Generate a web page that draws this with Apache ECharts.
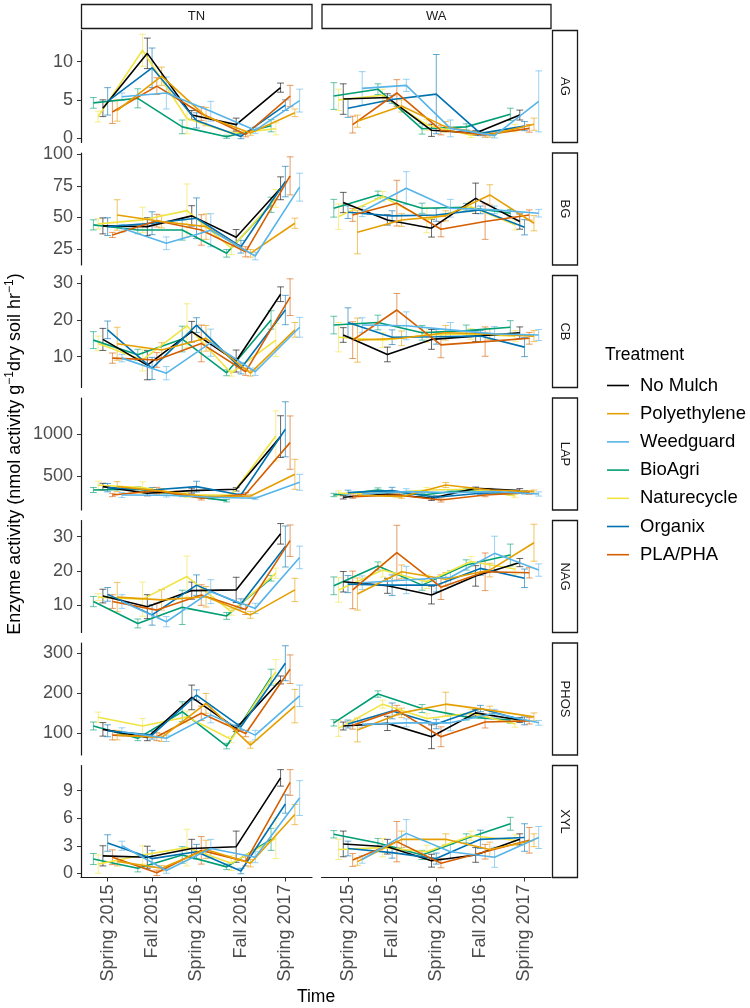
<!DOCTYPE html>
<html><head><meta charset="utf-8">
<script src="https://cdn.jsdelivr.net/npm/echarts@6/dist/echarts.min.js"></script>
<style>html,body{margin:0;padding:0;background:#fff}#c{width:750px;height:1008px}</style>
</head><body><div id="c"></div>
<script>
// ---------- data ----------
const times = ['Spring 2015','Fall 2015','Spring 2016','Fall 2016','Spring 2017'];
const treatments = ['No Mulch','Polyethylene','Weedguard','BioAgri','Naturecycle','Organix','PLA/PHA'];
const colors = ['#000000','#E69F00','#56B4E9','#009E73','#F0E442','#0072B2','#D55E00'];
const sites = ['TN','WA'];
const enzymes = ['AG','BG','CB','LAP','NAG','PHOS','XYL'];

const ticksAG = [0,5,10];        const rangeAG = [-0.6, 14.1];
const ticksBG = [25,50,75,100];  const rangeBG = [12.6, 100.8];
const ticksCB = [10,20,30];      const rangeCB = [1.6, 32.1];
const ticksLAP = [500,1000];     const rangeLAP = [92, 1435];
const ticksNAG = [10,20,30];     const rangeNAG = [1.95, 34.7];
const ticksPHOS = [100,200,300]; const rangePHOS = [44, 326];
const ticksXYL = [0,3,6,9];      const rangeXYL = [-0.46, 11.75];

// rows: No Mulch, Polyethylene, Weedguard, BioAgri, Naturecycle, Organix, PLA/PHA
const AG_TN = [[3.9,11.1,3.0,1.75,6.6],[3.6,8.1,2.8,0.65,3.3],[5.4,5.9,3.5,1.0,4.9],[4.6,5.2,1.45,0.15,1.6],[2.8,11.5,2.55,0.6,1.2],[4.8,9.2,2.3,0.2,4.3],[3.4,6.8,3.2,0.45,5.5]];
const AG_TN_se = [[1.1,2.0,0.6,0.85,0.6],[1.4,1.2,1.2,0.3,0.5],[0.5,2.1,1.3,0.4,1.5],[0.7,1.25,0.9,0.2,0.8],[0.7,2.1,2.0,0.3,0.8],[1.8,2.6,1.0,0.3,0.7],[1.5,1.1,0.9,0.3,1.4]];
const AG_WA = [[5.1,5.3,1.0,0.65,3.0],[2.2,4.2,1.45,0.4,1.8],[6.5,6.9,1.25,0.3,4.8],[5.5,6.4,1.2,1.45,3.1],[5.0,5.6,1.7,0.35,1.3],[3.9,5.05,5.75,0.6,1.55],[1.75,5.9,1.0,0.4,1.25]];
const AG_WA_se = [[2.0,0.5,0.8,0.3,0.65],[0.8,0.8,0.7,0.3,0.8],[2.2,0.8,1.1,0.3,4.0],[1.75,0.7,0.7,0.4,0.8],[1.4,0.8,0.7,0.3,0.5],[1.2,0.5,5.2,0.3,0.6],[1.1,1.75,0.6,0.3,0.5]];

const BG_TN = [[43.4,42.8,51.3,34.5,73],[52,46.8,42.8,21.8,45.5],[41.6,29.7,40,19.7,73.9],[44.2,40.2,40.2,21.8,60],[45,48.1,55.4,25.8,65],[42.8,45.5,49.4,27,78.3],[36.3,47.5,40.2,23,82.8]];
const BG_TN_se = [[6.3,7,8,6,9],[12,5,10,3,4],[3,5,13,3,11],[4,3,8,3,6],[4,10,21,5,7],[7,9,16,5,12],[2,5,12,4,15]];
const BG_WA = [[61.8,48.1,41.6,65.1,46.8],[38.4,48,51.3,67.8,45.5],[54.7,73.1,57.3,56,53.4],[57.3,67.8,57.3,58.1,53.4],[50.7,66.5,48,58.5,44.2],[54.2,51.3,52,56,42.3],[52,61.3,40.8,46.8,52]];
const BG_WA_se = [[8,4,7,12,6],[17,5,4,8,6],[4,13,7,3,3],[7,3,4,3,3],[10,4,10,4,4],[5,4,5,3,6],[5,18,6,14,4]];

const CB_TN = [[14.7,7.7,16.8,8.8,27],[13.5,11.8,15,5.5,17.3],[9.6,5.5,13.8,5.9,18],[14.5,10.5,14.8,5.6,20],[13.6,9.1,18.4,5.5,14.5],[17.3,6.8,18.6,6.8,22.7],[9.6,9.1,13.6,5.9,26.2]];
const CB_TN_se = [[3,4,2.8,3,2],[4.5,2,3.5,0.8,2],[1,1.8,3.7,1,2.7],[2.3,1.5,3.5,0.8,2.5],[2,3,6,0.8,4.5],[2.4,3,2,1.5,4],[1.4,2,5,1,5]];
const CB_WA = [[15.9,10.6,14.7,15.6,16.5],[14.5,15,16.5,16.2,15.6],[18.6,18.4,17.3,16.2,15.9],[18.6,19.3,16.5,17.1,18],[15.3,14.5,15.9,16.2,15.6],[19.3,15.3,15.4,15.6,12.6],[14.5,22.7,13.2,14.1,15]];
const CB_WA_se = [[2,2,2.7,1.5,1.6],[6,2,2,1.5,1.5],[2,3.8,2,2,1.5],[2.4,2,2,1.5,1.8],[4,2,2,1.5,1.5],[4,2,2,1.5,2.6],[5,4.5,3.5,4,1.6]];

const LAP_TN = [[372,292,324,340,972],[372,320,252,260,520],[272,268,244,232,424],[332,340,272,204,null],[388,360,272,272,980],[360,332,372,272,1060],[272,324,232,280,900]];
const LAP_TN_se = [[40,30,30,20,250],[60,30,20,15,180],[30,20,20,15,95],[30,30,20,15,null],[50,70,30,20,300],[50,30,65,20,330],[20,40,20,20,320]];
const LAP_WA = [[244,284,232,352,324],[272,252,392,332,312],[284,312,300,312,284],[272,332,272,332,292],[292,292,332,340,260],[300,324,244,292,304],[252,272,212,272,300]];
const LAP_WA_se = [[20,20,25,15,25],[20,20,30,20,20],[20,35,25,15,25],[20,25,20,20,20],[30,25,30,20,20],[30,40,20,15,20],[20,20,25,20,20]];

const NAG_TN = [[12.6,9.5,14.2,14.4,30.8],[12.3,11.5,12.4,7.1,14.4],[11,5.1,13.9,9,23.9],[11,4.6,9.3,6.8,17.8],[12.3,11.7,18.3,8,19.3],[13.1,7.1,15.8,10.3,27.1],[11,8.5,12.9,8.7,28.8]];
const NAG_TN_se = [[2,3.5,2.5,3.7,3],[4.3,3,3,1,3.4],[2,1.5,3.5,1.5,3.3],[1.5,1.3,5,1,0.8],[1,5,6,1,1.5],[2,3,3,1.5,6],[2,2,3,1.5,4.6]];
const NAG_WA = [[16.8,15.6,12.9,18.5,22.4],[13.2,19.7,17.5,20.2,28.2],[16.5,17.3,18.1,25.1,20.2],[15.6,21.4,15.8,21.7,24.6],[14.4,20.2,16.8,22.7,20.5],[16.1,15.8,15.8,20.7,17.8],[14.4,25.3,15.2,19.7,19.4]];
const NAG_WA_se = [[3,2.2,2.6,3,1.2],[4.7,2,2,2,5.4],[2,4,2,5,1.8],[2.6,1.2,1.5,1.5,3.2],[3.6,2,2,1.5,1.5],[2.5,3,2,2,2.7],[5.5,8,3.6,5.5,1.5]];

const PHOS_TN = [[108.5,88,189,111,233],[94,88,174,69,167],[102.5,86,145,94,193],[117,86,153,66.5,240],[139,117,140,83,254],[105,94,195,115,275],[94,90,149,98,260]];
const PHOS_TN_se = [[17,8,31,8,10],[12,10,25,8,42],[10,8,20,12,27],[10,6,25,7,20],[13,19,15,8,30],[15,10,13,8,44],[12,10,18,8,36]];
const PHOS_WA = [[117,123.6,90,150,132],[107,150,172,157,140],[121,125,125,149,125],[125,197.5,161,140,132],[111,172,136,149,122],[122,155,122,161,130],[119,157,90,127,130]];
const PHOS_WA_se = [[10,18,30,8,6],[30,12,30,10,10],[8,10,20,10,6],[8,8,10,8,8],[20,10,12,10,8],[10,20,12,8,10],[10,12,25,15,8]];

const XYL_TN = [[1.9,1.75,2.7,2.9,10.4],[1.3,0.55,2.6,1.1,6.4],[3.0,0.3,2.7,1.75,8.2],[1.56,0.55,2.0,0.7,3.7],[1.0,2.0,2.8,1.1,3.8],[3.3,1.6,2.35,0.25,7.55],[1.75,0.05,2.5,1.3,9.9]];
const XYL_TN_se = [[1.1,1.2,1,1.7,0.9],[0.5,0.3,1,0.4,1.1],[0.5,0.3,1,0.6,1.9],[0.6,0.4,0.9,0.3,1.2],[1,1,2,0.8,2.2],[0.9,0.9,0.8,0.3,1],[0.8,0.3,1.5,0.5,1.4]];
const XYL_WA = [[3.2,2.9,1.37,2.0,3.7],[1.27,3.7,3.7,2.6,3.6],[1.5,4.35,2.35,1.75,3.9],[4.25,3.3,2.0,3.8,5.4],[2.6,2.8,2.35,4.1,3.6],[2.7,2.25,1.6,3.7,3.9],[1.45,3.45,1.1,2.35,3.6]];
const XYL_WA_se = [[1.4,0.8,0.7,0.8,0.6],[0.4,0.9,0.6,0.8,0.7],[0.4,1.5,0.8,1.1,1.2],[0.4,0.5,0.5,0.5,0.7],[1.1,1,0.7,0.5,0.6],[0.8,0.6,0.6,1,1.5],[0.7,2.2,0.5,0.8,1.4]];

// ---------- lookups ----------
const ticksBy = {AG:ticksAG,BG:ticksBG,CB:ticksCB,LAP:ticksLAP,NAG:ticksNAG,PHOS:ticksPHOS,XYL:ticksXYL};
const rangeBy = {AG:rangeAG,BG:rangeBG,CB:rangeCB,LAP:rangeLAP,NAG:rangeNAG,PHOS:rangePHOS,XYL:rangeXYL};
const meanBy = {AG:[AG_TN,AG_WA],BG:[BG_TN,BG_WA],CB:[CB_TN,CB_WA],LAP:[LAP_TN,LAP_WA],NAG:[NAG_TN,NAG_WA],PHOS:[PHOS_TN,PHOS_WA],XYL:[XYL_TN,XYL_WA]};
const seBy = {AG:[AG_TN_se,AG_WA_se],BG:[BG_TN_se,BG_WA_se],CB:[CB_TN_se,CB_WA_se],LAP:[LAP_TN_se,LAP_WA_se],NAG:[NAG_TN_se,NAG_WA_se],PHOS:[PHOS_TN_se,PHOS_WA_se],XYL:[XYL_TN_se,XYL_WA_se]};

// ---------- layout ----------
const FONT = "'Liberation Sans', Arial, Helvetica, sans-serif";
const colLeft = [81, 321.5];
const colWidth = [231, 229.5];
const rowTop0 = 30.5, rowPitch = 122.5, rowH = 112;
const dodgeSorted = treatments.slice().sort();
const dodgeW = 0.75;

const grids = [], xAxes = [], yAxes = [], series = [], graphics = [];

function errRender(color) {
  return function (params, api) {
    const x = api.value(0), lo = api.value(1), hi = api.value(2);
    const a = api.coord([x, lo]), b = api.coord([x, hi]);
    const hw = 3.4;
    const st = {stroke: color, lineWidth: 1, opacity: 0.6};
    return {type: 'group', children: [
      {type: 'line', shape: {x1: a[0], y1: a[1], x2: b[0], y2: b[1]}, style: st},
      {type: 'line', shape: {x1: a[0]-hw, y1: a[1], x2: a[0]+hw, y2: a[1]}, style: st},
      {type: 'line', shape: {x1: b[0]-hw, y1: b[1], x2: b[0]+hw, y2: b[1]}, style: st}
    ]};
  };
}

enzymes.forEach((enz, r) => {
  const top = rowTop0 + r * rowPitch;
  const bottomRow = r === enzymes.length - 1;
  sites.forEach((site, c) => {
    const gi = r * 2 + c;
    grids.push({left: colLeft[c], top: top, width: colWidth[c], height: rowH});
    xAxes.push({
      type: 'value', gridIndex: gi, min: 0.4, max: 5.6,
      axisLine: {show: bottomRow, onZero: false, lineStyle: {color: '#1a1a1a', width: 1.2}},
      axisTick: {show: bottomRow, customValues: [1,2,3,4,5], length: 4, lineStyle: {color: '#333', width: 1}},
      axisLabel: {show: bottomRow, customValues: [1,2,3,4,5], rotate: 90, fontSize: 18, color: '#4D4D4D', margin: 7,
        fontFamily: FONT, formatter: v => times[Math.round(v) - 1]},
      splitLine: {show: false}
    });
    const tk = ticksBy[enz], rg = rangeBy[enz];
    yAxes.push({
      type: 'value', gridIndex: gi, min: rg[0], max: rg[1], show: c === 0,
      axisLine: {show: true, onZero: false, lineStyle: {color: '#1a1a1a', width: 1.2}},
      axisTick: {show: true, customValues: tk, length: 4, lineStyle: {color: '#333', width: 1}},
      axisLabel: {customValues: tk, fontSize: 18, color: '#4D4D4D', margin: 8, fontFamily: FONT,
        formatter: v => String(v)},
      splitLine: {show: false}
    });
    const means = meanBy[enz][c], ses = seBy[enz][c];
    dodgeSorted.forEach(name => {
      const k = treatments.indexOf(name);
      const off = (dodgeSorted.indexOf(name) - 3) * dodgeW / 7;
      const pts = [], errs = [];
      means[k].forEach((m, t) => {
        if (m === null) return;
        const x = t + 1 + off;
        pts.push([x, m]);
        errs.push([x, m - ses[k][t], m + ses[k][t]]);
      });
      series.push({
        type: 'custom', xAxisIndex: gi, yAxisIndex: gi, data: errs, z: 2, silent: true,
        encode: {x: 0, y: [1, 2]}, renderItem: errRender(colors[k])
      });
      series.push({
        type: 'line', name: name, xAxisIndex: gi, yAxisIndex: gi, data: pts, z: 3,
        symbol: 'none', showSymbol: false, silent: true,
        lineStyle: {color: colors[k], width: 1.6}, itemStyle: {color: colors[k]}
      });
    });
  });
  // right strip
  graphics.push({type: 'rect', shape: {x: 552.5, y: top, width: 25, height: rowH},
    style: {fill: '#fff', stroke: '#1a1a1a', lineWidth: 1.3}});
  graphics.push({type: 'text', x: 565, y: top + rowH / 2, rotation: -Math.PI / 2,
    style: {text: enz, fontSize: 13, fill: '#1a1a1a', align: 'center', verticalAlign: 'middle', fontFamily: FONT}});
});

// top strips
sites.forEach((site, c) => {
  graphics.push({type: 'rect', shape: {x: colLeft[c] + 0.5, y: 4.5, width: colWidth[c] - 0.5, height: 24},
    style: {fill: '#fff', stroke: '#1a1a1a', lineWidth: 1.3}});
  graphics.push({type: 'text', x: colLeft[c] + colWidth[c] / 2, y: 16.5,
    style: {text: site, fontSize: 13, fill: '#1a1a1a', align: 'center', verticalAlign: 'middle', fontFamily: FONT}});
});

// axis titles
graphics.push({type: 'text', x: 316, y: 997,
  style: {text: 'Time', fontSize: 17.5, fill: '#000', align: 'center', verticalAlign: 'middle', fontFamily: FONT}});
graphics.push({type: 'text', x: 15, y: 454, rotation: Math.PI / 2,
  style: {
    text: '{n|Enzyme activity (nmol activity g}{s|−1}{n|dry soil hr}{s|−1}{n|)}',
    align: 'center', verticalAlign: 'middle', fontFamily: FONT,
    rich: {
      n: {fontSize: 18, fill: '#000', lineHeight: 22, fontFamily: FONT},
      s: {fontSize: 12, fill: '#000', lineHeight: 22, verticalAlign: 'top', fontFamily: FONT}
    }
  }});
// legend title
graphics.push({type: 'text', x: 605, y: 355,
  style: {text: 'Treatment', fontSize: 17.5, fill: '#000', align: 'left', verticalAlign: 'middle', fontFamily: FONT}});

const chart = echarts.init(document.getElementById('c'), null, {renderer: 'canvas'});
chart.setOption({
  animation: false,
  backgroundColor: '#fff',
  textStyle: {fontFamily: FONT},
  grid: grids, xAxis: xAxes, yAxis: yAxes, series: series,
  legend: {
    data: treatments.map((n, i) => ({name: n, icon: 'rect', itemStyle: {color: colors[i]}})),
    orient: 'vertical', left: 602, top: 371, padding: 5,
    itemWidth: 22, itemHeight: 1.6, itemGap: 9.2, selectedMode: false,
    textStyle: {fontSize: 18.5, color: '#000', lineHeight: 18, fontFamily: FONT, padding: [0, 0, 0, 6]}
  },
  graphic: graphics
});
</script>
</body></html>
